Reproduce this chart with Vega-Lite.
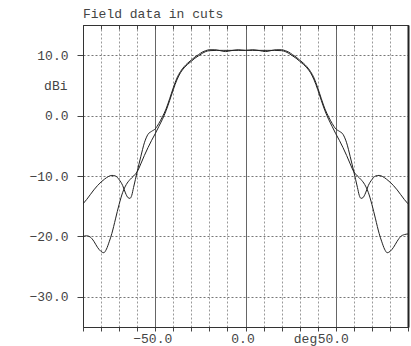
{
  "$schema": "https://vega.github.io/schema/vega-lite/v6.json",
  "width": 325,
  "height": 302,
  "autosize": "none",
  "padding": {"left": 83, "top": 25, "right": 3, "bottom": 19},
  "background": "white",
  "title": {"text": "Field data in cuts", "anchor": "start", "frame": "group", "font": "Liberation Mono", "fontSize": 13, "fontWeight": "normal", "color": "#444", "offset": 4},
  "config": {
    "view": {"stroke": "#333", "strokeWidth": 1},
    "axis": {"labelFont": "Liberation Mono", "labelFontSize": 13, "labelColor": "#444", "titleFont": "Liberation Mono", "titleFontSize": 13, "titleFontWeight": "normal", "titleColor": "#444", "domainColor": "#333", "tickColor": "#444"}
  },
  "data": {"values": [
    {"cut":"A","x":-90,"y":-20.0},{"cut":"A","x":-88,"y":-19.9},{"cut":"A","x":-86,"y":-20.1},{"cut":"A","x":-84,"y":-20.8},{"cut":"A","x":-82,"y":-21.8},{"cut":"A","x":-80,"y":-22.5},{"cut":"A","x":-78.5,"y":-22.7},{"cut":"A","x":-77,"y":-22.1},{"cut":"A","x":-75.5,"y":-20.9},{"cut":"A","x":-74,"y":-19.5},{"cut":"A","x":-72,"y":-17.1},{"cut":"A","x":-70,"y":-14.7},{"cut":"A","x":-68,"y":-12.7},{"cut":"A","x":-66,"y":-11.4},{"cut":"A","x":-64,"y":-10.6},{"cut":"A","x":-62,"y":-10.0},{"cut":"A","x":-60,"y":-9.3},{"cut":"A","x":-58,"y":-8.0},{"cut":"A","x":-56,"y":-6.6},{"cut":"A","x":-54,"y":-5.3},{"cut":"A","x":-52,"y":-4.1},{"cut":"A","x":-50,"y":-3.0},{"cut":"A","x":-48,"y":-1.8},{"cut":"A","x":-46,"y":-0.6},{"cut":"A","x":-44,"y":0.8},{"cut":"A","x":-42,"y":2.5},{"cut":"A","x":-40,"y":4.3},{"cut":"A","x":-38,"y":5.9},{"cut":"A","x":-36,"y":7.1},{"cut":"A","x":-34,"y":7.9},{"cut":"A","x":-32,"y":8.5},{"cut":"A","x":-30,"y":9.0},{"cut":"A","x":-28,"y":9.5},{"cut":"A","x":-26,"y":9.9},{"cut":"A","x":-24,"y":10.3},{"cut":"A","x":-22,"y":10.6},{"cut":"A","x":-20,"y":10.75},{"cut":"A","x":-16,"y":10.8},{"cut":"A","x":-12,"y":10.8},{"cut":"A","x":-8,"y":10.8},{"cut":"A","x":-4,"y":10.8},{"cut":"A","x":0,"y":10.8},
    {"cut":"A","x":4,"y":10.8},{"cut":"A","x":8,"y":10.8},{"cut":"A","x":12,"y":10.8},{"cut":"A","x":16,"y":10.8},{"cut":"A","x":20,"y":10.75},{"cut":"A","x":22,"y":10.6},{"cut":"A","x":24,"y":10.3},{"cut":"A","x":26,"y":9.9},{"cut":"A","x":28,"y":9.5},{"cut":"A","x":30,"y":9.0},{"cut":"A","x":32,"y":8.5},{"cut":"A","x":34,"y":7.9},{"cut":"A","x":36,"y":7.1},{"cut":"A","x":38,"y":5.9},{"cut":"A","x":40,"y":4.3},{"cut":"A","x":42,"y":2.5},{"cut":"A","x":44,"y":0.8},{"cut":"A","x":46,"y":-0.6},{"cut":"A","x":48,"y":-1.8},{"cut":"A","x":50,"y":-3.0},{"cut":"A","x":52,"y":-4.1},{"cut":"A","x":54,"y":-5.3},{"cut":"A","x":56,"y":-6.6},{"cut":"A","x":58,"y":-8.0},{"cut":"A","x":60,"y":-9.3},{"cut":"A","x":62,"y":-10.0},{"cut":"A","x":64,"y":-10.6},{"cut":"A","x":66,"y":-11.4},{"cut":"A","x":68,"y":-12.7},{"cut":"A","x":70,"y":-14.7},{"cut":"A","x":72,"y":-17.1},{"cut":"A","x":74,"y":-19.5},{"cut":"A","x":75.5,"y":-20.9},{"cut":"A","x":77,"y":-22.1},{"cut":"A","x":78.5,"y":-22.7},{"cut":"A","x":80,"y":-22.5},{"cut":"A","x":82,"y":-21.8},{"cut":"A","x":84,"y":-20.8},{"cut":"A","x":86,"y":-20.0},{"cut":"A","x":88,"y":-19.7},{"cut":"A","x":90,"y":-19.6},
    {"cut":"B","x":-90,"y":-14.6},{"cut":"B","x":-88,"y":-13.9},{"cut":"B","x":-86,"y":-13.1},{"cut":"B","x":-84,"y":-12.3},{"cut":"B","x":-82,"y":-11.6},{"cut":"B","x":-80,"y":-11.0},{"cut":"B","x":-78,"y":-10.5},{"cut":"B","x":-76,"y":-10.1},{"cut":"B","x":-74,"y":-9.9},{"cut":"B","x":-72,"y":-10.0},{"cut":"B","x":-70,"y":-10.6},{"cut":"B","x":-68,"y":-11.6},{"cut":"B","x":-66.5,"y":-12.8},{"cut":"B","x":-65,"y":-13.6},{"cut":"B","x":-64,"y":-13.7},{"cut":"B","x":-63,"y":-13.2},{"cut":"B","x":-62,"y":-11.9},{"cut":"B","x":-61,"y":-10.6},{"cut":"B","x":-60,"y":-9.3},{"cut":"B","x":-58,"y":-6.8},{"cut":"B","x":-56,"y":-4.5},{"cut":"B","x":-54,"y":-3.1},{"cut":"B","x":-52,"y":-2.6},{"cut":"B","x":-50,"y":-2.2},{"cut":"B","x":-48,"y":-1.3},{"cut":"B","x":-46,"y":-0.2},{"cut":"B","x":-44,"y":1.1},{"cut":"B","x":-42,"y":2.8},{"cut":"B","x":-40,"y":4.6},{"cut":"B","x":-38,"y":6.2},{"cut":"B","x":-36,"y":7.3},{"cut":"B","x":-34,"y":8.1},{"cut":"B","x":-32,"y":8.7},{"cut":"B","x":-30,"y":9.2},{"cut":"B","x":-28,"y":9.7},{"cut":"B","x":-26,"y":10.1},{"cut":"B","x":-24,"y":10.5},{"cut":"B","x":-22,"y":10.75},{"cut":"B","x":-20,"y":10.9},{"cut":"B","x":-17,"y":10.9},{"cut":"B","x":-14,"y":10.75},{"cut":"B","x":-11,"y":10.6},{"cut":"B","x":-8,"y":10.75},{"cut":"B","x":-4,"y":10.9},{"cut":"B","x":-2,"y":10.85},{"cut":"B","x":0,"y":10.8},
    {"cut":"B","x":2,"y":10.85},{"cut":"B","x":4,"y":10.9},{"cut":"B","x":8,"y":10.75},{"cut":"B","x":11,"y":10.6},{"cut":"B","x":14,"y":10.75},{"cut":"B","x":17,"y":10.9},{"cut":"B","x":20,"y":10.9},{"cut":"B","x":22,"y":10.75},{"cut":"B","x":24,"y":10.5},{"cut":"B","x":26,"y":10.1},{"cut":"B","x":28,"y":9.7},{"cut":"B","x":30,"y":9.2},{"cut":"B","x":32,"y":8.7},{"cut":"B","x":34,"y":8.1},{"cut":"B","x":36,"y":7.3},{"cut":"B","x":38,"y":6.2},{"cut":"B","x":40,"y":4.6},{"cut":"B","x":42,"y":2.8},{"cut":"B","x":44,"y":1.1},{"cut":"B","x":46,"y":-0.2},{"cut":"B","x":48,"y":-1.3},{"cut":"B","x":50,"y":-2.2},{"cut":"B","x":52,"y":-2.6},{"cut":"B","x":54,"y":-3.1},{"cut":"B","x":56,"y":-4.5},{"cut":"B","x":58,"y":-6.8},{"cut":"B","x":60,"y":-9.3},{"cut":"B","x":61,"y":-10.6},{"cut":"B","x":62,"y":-11.9},{"cut":"B","x":63,"y":-13.2},{"cut":"B","x":64,"y":-13.7},{"cut":"B","x":65,"y":-13.6},{"cut":"B","x":66.5,"y":-12.8},{"cut":"B","x":68,"y":-11.6},{"cut":"B","x":70,"y":-10.6},{"cut":"B","x":72,"y":-10.0},{"cut":"B","x":74,"y":-9.9},{"cut":"B","x":76,"y":-10.1},{"cut":"B","x":78,"y":-10.5},{"cut":"B","x":80,"y":-11.0},{"cut":"B","x":82,"y":-11.6},{"cut":"B","x":84,"y":-12.3},{"cut":"B","x":86,"y":-13.1},{"cut":"B","x":88,"y":-13.9},{"cut":"B","x":90,"y":-14.6}
  ]},
  "layer": [
    {
      "mark": {"type": "line", "color": "#222", "strokeWidth": 1, "interpolate": "monotone", "clip": true},
      "encoding": {
        "x": {"field": "x", "type": "quantitative", "scale": {"domain": [-90, 90], "nice": false, "zero": false},
          "axis": {"orient": "bottom", "values": [-90,-80,-70,-60,-50,-40,-30,-20,-10,0,10,20,30,40,50,60,70,80,90],
            "labelExpr": "abs(datum.value) % 50 === 0 ? format(datum.value, '.1f') : ''",
            "labelFlush": false, "labelOverlap": false, "labelPadding": 1, "labelBaseline": "top", "labelOffset": -3,
            "tickSize": 4, "grid": true,
            "gridDash": {"condition": {"test": "abs(datum.value) % 50 === 0", "value": []}, "value": [2, 2]},
            "gridColor": {"condition": {"test": "abs(datum.value) % 50 === 0", "value": "#666"}, "value": "#999"},
            "title": "deg", "titleX": 222, "titleY": 5, "titleBaseline": "top", "titleAlign": "center", "titlePadding": 0}},
        "y": {"field": "y", "type": "quantitative", "scale": {"domain": [-35, 15], "nice": false, "zero": false},
          "axis": {"orient": "left", "values": [-30, -20, -10, 0, 10], "format": ".1f", "tickSize": 6, "labelPadding": 9,
            "grid": true, "gridDash": [2, 2], "gridColor": "#777",
            "title": "dBi", "titleAngle": 0, "titleX": -16, "titleY": 60, "titleAlign": "right", "titleBaseline": "middle"}},
        "detail": {"field": "cut", "type": "nominal"}
      }
    },
    {
      "mark": {"type": "point", "opacity": 0},
      "encoding": {
        "x": {"field": "x", "type": "quantitative",
          "axis": {"orient": "top", "values": [-90,-80,-70,-60,-50,-40,-30,-20,-10,0,10,20,30,40,50,60,70,80,90], "labels": false, "tickSize": -4, "grid": false, "title": null}},
        "y": {"field": "y", "type": "quantitative",
          "axis": {"orient": "right", "labels": false, "ticks": false, "grid": false, "title": null, "domainWidth": 2, "domainColor": "#222"}}
      }
    }
  ]
}
